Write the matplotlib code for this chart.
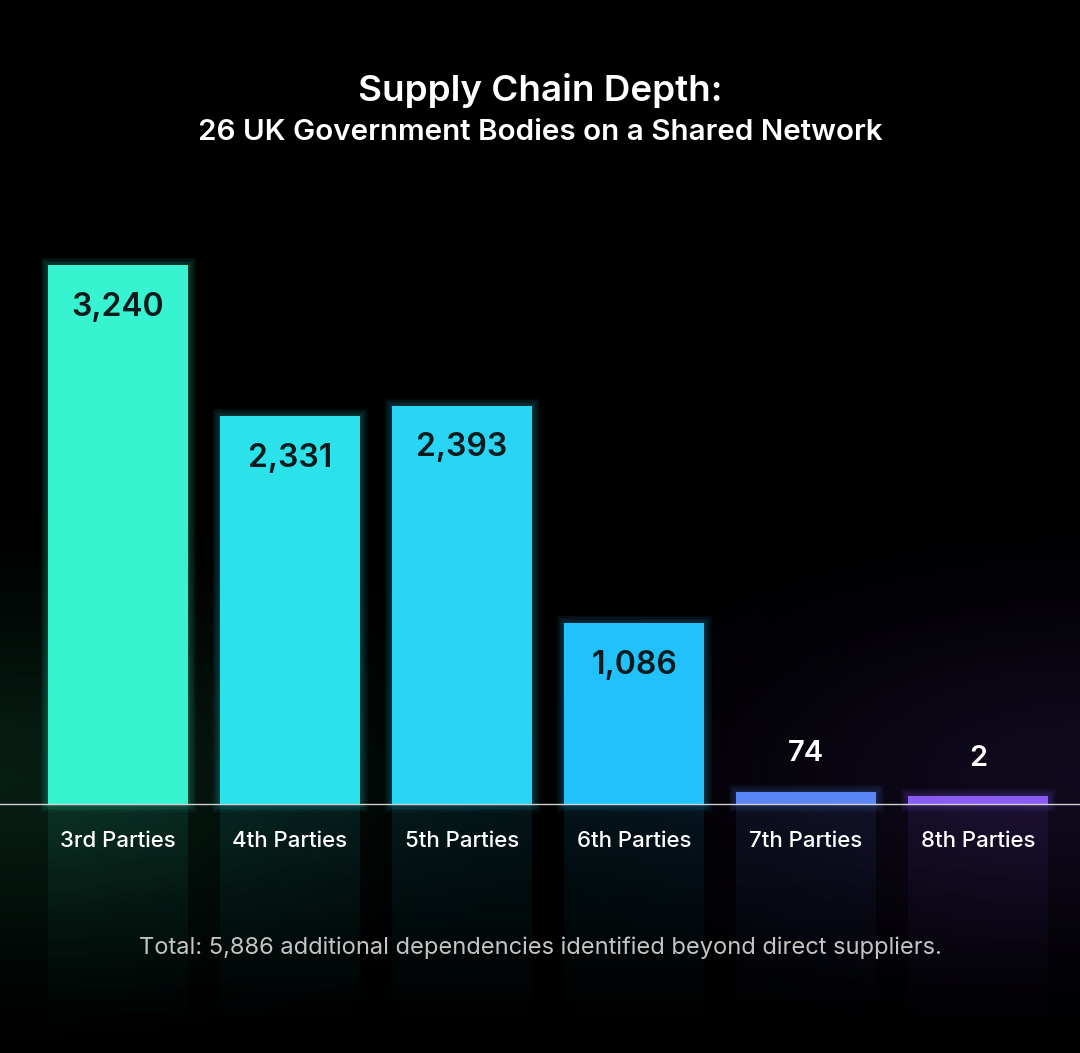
import numpy as np
import matplotlib.pyplot as plt
from matplotlib.patches import Rectangle
from matplotlib.colors import to_rgb

categories = ['3rd Parties', '4th Parties', '5th Parties', '6th Parties', '7th Parties', '8th Parties']
values = [3240, 2331, 2393, 1086, 74, 2]
colors = ['#38f3cf', '#2be2ea', '#28d5f4', '#21c2fc', '#5a86f7', '#8a5cf6']
label_dark = [True, True, True, True, False, False]

W, H = 1080, 1053
fig = plt.figure(figsize=(W / 100, H / 100), dpi=100, facecolor='black')
ax = fig.add_axes([0, 0, 1, 1])
ax.set_facecolor('black')

# pixel mapping: baseline at y=804 px, tallest bar top at 265 px
base_px, top_px, slot = 804, 265, 172
scale = (base_px - top_px) / max(values)
ax.set_ylim(-(H - base_px) / scale, base_px / scale)
ax.set_xlim(-118 / slot, (W - 118) / slot)
ax.axis('off')
x0, x1 = ax.get_xlim()
y0, y1 = ax.get_ylim()

# faint corner glows
gx, gy = np.meshgrid(np.linspace(0, 1, 300), np.linspace(0, 1, 300))
bg = np.zeros((300, 300, 4))
for cx, cy, col, a in [(0.0, 0.26, (0.2, 0.9, 0.6), 0.13), (1.0, 0.26, (0.5, 0.3, 0.9), 0.13)]:
    d = np.exp(-(((gx - cx) / 0.3) ** 2 + ((gy - cy) / 0.15) ** 2))
    bg[..., :3] += np.array(col) * d[..., None] * a
    bg[..., 3] = np.maximum(bg[..., 3], d * a)
bg[..., :3] = np.clip(bg[..., :3] / np.maximum(bg[..., 3:], 1e-6), 0, 1)
ax.imshow(bg, extent=(x0, x1, y0, y1), origin='lower', aspect='auto', zorder=0)

width = 140 / slot
min_h = 8 / scale  # keep tiny bars visible
xs = np.arange(len(values))
for x, v, c, dark in zip(xs, values, colors, label_dark):
    h = max(v, min_h)
    for k in range(1, 6):
        ax.add_patch(Rectangle((x - width / 2, 0), width, h, facecolor='none',
                               edgecolor=c, lw=k * 2.2, alpha=0.05, zorder=2))
    ax.bar(x, h, width=width, color=c, zorder=3)
    # reflection, strongest near the baseline
    grad = np.zeros((200, 1, 4))
    grad[..., :3] = to_rgb(c)
    grad[:, 0, 3] = np.linspace(0.0, 0.1, 200) ** 1.2 / 0.1 ** 0.2
    ax.imshow(grad, extent=(x - width / 2, x + width / 2, y0, 0), origin='lower',
              aspect='auto', zorder=1)
    if dark:
        ax.text(x, v - 42 / scale, f'{v:,}', ha='center', va='center', fontsize=23,
                fontweight='semibold', family='Inter', color='#0b1a1c', zorder=4)
    else:
        ax.text(x, h + 38 / scale, f'{v:,}', ha='center', va='center', fontsize=21,
                fontweight='semibold', family='Inter', color='white', zorder=4)
    ax.text(x, -37 / scale, categories[x], ha='center', va='center', fontsize=16,
            fontweight='medium', family='Inter', color='white', zorder=4)

ax.axhline(0, color='#d0d0d0', lw=1, zorder=5)

fig.text(0.5, 1 - 90 / H, 'Supply Chain Depth:', ha='center', va='center',
         fontsize=26.5, fontweight='semibold', family='Inter', color='white')
fig.text(0.5, 1 - 133 / H, '26 UK Government Bodies on a Shared Network', ha='center',
         va='center', fontsize=21.3, fontweight='semibold', family='Inter', color='white')
fig.text(0.5, 1 - 948 / H, 'Total: 5,886 additional dependencies identified beyond direct suppliers.',
         ha='center', va='center', fontsize=17, family='Inter', color='#c4c4c4')

fig.savefig('out.png', dpi=100, facecolor='black')
